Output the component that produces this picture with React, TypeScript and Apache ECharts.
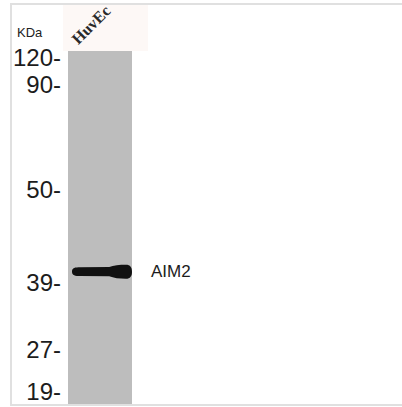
import React, { useEffect, useRef } from "react";
import * as echarts from "echarts";

// Lanes (samples)
const lanes = ["HuvEc"];
// Lane length in relative migration units (0 = top of lane, 100 = bottom)
const laneLength = [100];
// Molecular-weight marker ladder: labels and relative migration
const markerLabels = ["120", "90", "50", "39", "27", "19"];
const markerMigration = [1.7, 9.6, 39.1, 65.7, 84.7, 96.6];
// Detected bands
const bandNames = ["AIM2"];
const bandLanes = ["HuvEc"];
const bandMigration = [62.5];

const BAND_PATH =
  "path://M2,7 C2,3.4 5,3 10,3 L38,2.8 C42,1 48,0.5 54,0.5 C58.5,0.5 60,3 60,7 C60,11 58.5,13.5 54,13.5 C48,13.5 42,12.8 38,11.2 L10,11 C5,11 2,10.6 2,7 Z";

export default function App() {
  const ref = useRef<HTMLDivElement>(null);
  useEffect(() => {
    if (!ref.current) return;
    const chart = echarts.init(ref.current, undefined, { renderer: "svg" });
    chart.setOption({
      animation: false,
      backgroundColor: "#ffffff",
      grid: {
        left: 68,
        right: 270,
        top: 51,
        bottom: 3,
        containLabel: false,
        outerBoundsMode: "none",
      },
      xAxis: {
        type: "category",
        data: lanes,
        position: "top",
        axisLine: { show: false },
        axisTick: { show: false },
        axisLabel: { show: false },
        splitLine: { show: false },
      },
      yAxis: {
        type: "value",
        inverse: true,
        min: 0,
        max: 100,
        axisLine: { show: false },
        axisTick: { show: false },
        splitLine: { show: false },
        axisLabel: {
          customValues: markerMigration,
          margin: 7,
          hideOverlap: false,
          fontFamily: "Liberation Sans, Arial, sans-serif",
          fontSize: 24,
          lineHeight: 20,
          color: "#1c1c1c",
          formatter: (v: number) => {
            let idx = 0;
            let best = Infinity;
            markerMigration.forEach((m, i) => {
              const d = Math.abs(m - v);
              if (d < best) {
                best = d;
                idx = i;
              }
            });
            return markerLabels[idx] + "-";
          },
        },
      },
      graphic: [
        {
          type: "rect",
          z: -10,
          shape: { x: 63, y: 5, width: 85, height: 46 },
          style: { fill: "#fdf8f6" },
          silent: true,
        },
        {
          type: "rect",
          z: 100,
          shape: { x: 11, y: 4, width: 400, height: 401 },
          style: { fill: "none", stroke: "#e0e0e0", lineWidth: 2 },
          silent: true,
        },
        {
          type: "text",
          x: 17,
          y: 32,
          style: {
            text: "KDa",
            fontFamily: "Liberation Sans, Arial, sans-serif",
            fontSize: 13,
            fill: "#222222",
            verticalAlign: "middle",
            align: "left",
          },
        },
      ],
      series: [
        {
          type: "bar",
          data: laneLength,
          barWidth: "100%",
          itemStyle: { color: "#bdbdbd" },
          label: {
            show: true,
            formatter: "{b}",
            position: [12, -4],
            rotate: 45,
            align: "left",
            verticalAlign: "bottom",
            fontFamily: "Liberation Serif, Times New Roman, serif",
            fontWeight: "bold",
            fontSize: 16,
            color: "#2a2a2a",
          },
          silent: true,
        },
        {
          type: "scatter",
          data: bandMigration.map((m, i) => ({
            name: bandNames[i],
            value: [bandLanes[i], m],
          })),
          symbol: BAND_PATH,
          symbolKeepAspect: false,
          symbolSize: [60, 14],
          symbolOffset: [2, 0],
          itemStyle: { color: "#111111", opacity: 1 },
          label: {
            show: true,
            formatter: "{b}",
            position: "right",
            distance: 19,
            fontFamily: "Liberation Sans, Arial, sans-serif",
            fontSize: 17,
            color: "#1c1c1c",
          },
          silent: true,
          z: 5,
        },
      ],
    });
    return () => chart.dispose();
  }, []);
  return (
    <div
      ref={ref}
      style={{ position: "fixed", left: 0, top: 0, width: 402, height: 407 }}
    />
  );
}
